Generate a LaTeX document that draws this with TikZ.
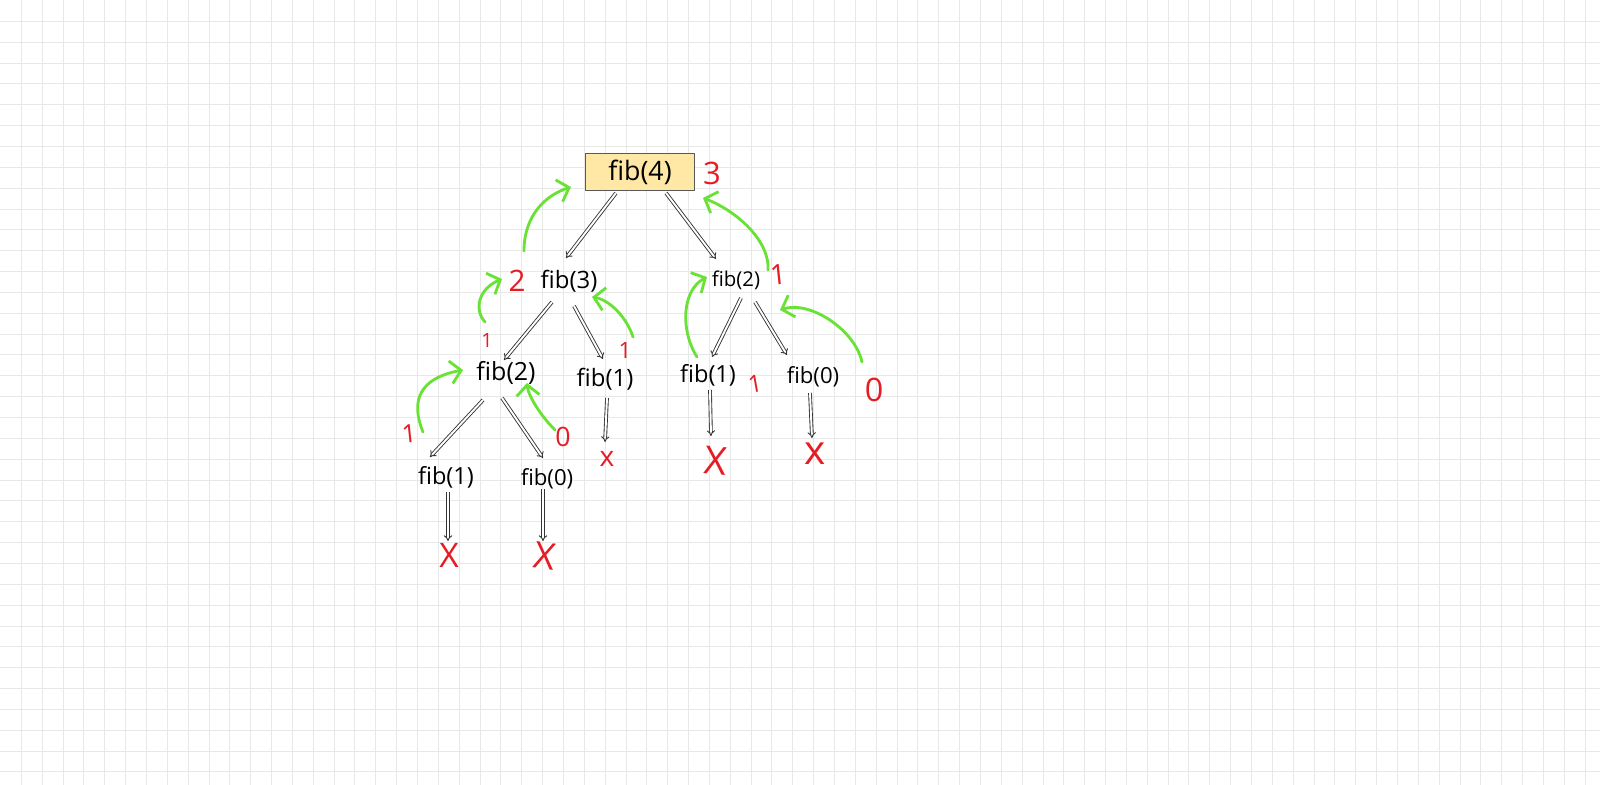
\documentclass[tikz,border=0pt]{standalone}
\usepackage{fontspec}
\setsansfont{Open Sans}
\usetikzlibrary{arrows.meta,calc}
\definecolor{boxfill}{RGB}{255,232,166}
\definecolor{retred}{RGB}{230,28,36}
\definecolor{backgreen}{RGB}{104,226,52}
\definecolor{gridgray}{RGB}{232,232,232}
\tikzset{
  call/.style={font=\sffamily\fontsize{#1}{#1}\selectfont,inner sep=0pt},
  ret/.style={text=retred,font=\sffamily\fontsize{#1}{#1}\selectfont,inner sep=0pt},
  link/.style={draw=black!80,line width=0.25pt,double,double distance=0.55pt,-{Implies}},
  back/.style={draw=backgreen,line width=0.8pt,line cap=round,-{Straight Barb[length=3pt,width=6.5pt]}}
}

\begin{document}
\begin{tikzpicture}[x=0.01cm,y=-0.01cm,line join=round]
\useasboundingbox (0,0) rectangle (1600,785);
\fill[white] (0,0) rectangle (1600,785);
% --- squared paper
\foreach \i in {1,...,76} {
  \pgfmathsetmacro{\gx}{round(\i*20.85)+0.5}
  \draw[gridgray,line width=0.28pt] (\gx,0) -- (\gx,785);}
\foreach \j in {1,...,37} {
  \pgfmathsetmacro{\gy}{round(\j*20.85)+0.5}
  \draw[gridgray,line width=0.28pt] (0,\gy) -- (1600,\gy);}

% --- calls
\node[call=7.6,draw=black!65,fill=boxfill,minimum width=1.09cm,minimum height=0.37cm] (f4) at (640,172) {fib(4)\hspace{0.12cm}};
\node[call=6.8] (f3) at (569,281) {fib(3)};
\node[call=5.8] (f2r) at (736,280) {fib(2)};
\node[call=7.1] (f2l) at (506,373) {fib(2)};
\node[call=6.8] (f1m) at (605,379) {fib(1)};
\node[call=6.7] (f1r) at (708,375) {fib(1)};
\node[call=6.3] (f0r) at (813,377) {fib(0)};
\node[call=6.7] (f1b) at (446,477) {fib(1)};
\node[call=6.3] (f0b) at (547,479) {fib(0)};

% --- ends of recursion
\node[ret=9.6] (xa) at (449,555) {X};
\node[ret=10.5,rotate=-8] (xb) at (545,556) {X};
\node[ret=8] (xc) at (607,459) {x};
\node[ret=11,rotate=-5] (xd) at (716,461) {X};
\node[ret=11.5] (xe) at (815,454) {x};

% --- returned values
\node[ret=8.8] (r4) at (712,173) {3};
\node[ret=8.4] (r3) at (517,281) {2};
\node[ret=8,rotate=6] (r2r) at (778,275) {1};
\node[ret=5.6] (r2l) at (487,340) {1};
\node[ret=6.4] (r1m) at (625,350) {1};
\node[ret=6.8,rotate=10] (r1r) at (755,384) {1};
\node[ret=9.2] (r0r) at (874,390) {0};
\node[ret=7.2,rotate=6] (r1b) at (409,434) {1};
\node[ret=7.6] (r0b) at (563,437) {0};

% --- calls going down
\draw[link] ($(f4)+(-24,21)$) -- ($(f3)+(-3,-23)$);
\draw[link] ($(f4)+(26,21)$) -- ($(f2r)+(-20,-21)$);
\draw[link] ($(f3)+(-17,21)$) -- ($(f2l)+(-2,-13)$);
\draw[link] ($(f3)+(5,25)$) -- ($(f1m)+(-2,-20)$);
\draw[link] ($(f2r)+(5,18)$) -- ($(f1r)+(4,-18)$);
\draw[link] ($(f2r)+(19,22)$) -- ($(f0r)+(-26,-22)$);
\draw[link] ($(f2l)+(-23,27)$) -- ($(f1b)+(-16,-20)$);
\draw[link] ($(f2l)+(-4,25)$) -- ($(f0b)+(-4,-21)$);
\draw[link] ($(f1b)+(2,15)$) -- ($(xa)+(-1,-14)$);
\draw[link] ($(f0b)+(-4,10)$) -- ($(xb)+(-2,-15)$);
\draw[link] ($(f1m)+(2,19)$) -- ($(xc)+(-2,-17)$);
\draw[link] ($(f1r)+(2,15)$) -- ($(xd)+(-5,-25)$);
\draw[link] ($(f0r)+(-3,16)$) -- ($(xe)+(-3,-16)$);

% --- values going back up
\draw[back] ($(r3)+(7,-30)$) .. controls +(0,-36) and +(-25,8) .. ($(f4)+(-69,15)$);
\draw[back] ($(r2l)+(-2,-18)$) .. controls +(-11,-12) and +(-24,10) .. ($(r3)+(-15,-2)$);
\draw[back] ($(r1m)+(8,-13)$) .. controls +(-6,-19) and +(18,3) .. ($(f3)+(23,16)$);
\draw[back] ($(r2r)+(-10,-5)$) .. controls +(2,-30) and +(32,12) .. ($(f4)+(63,26)$);
\draw[back] ($(f1r)+(-11,-18)$) .. controls +(-17,-27) and +(-25,13) .. ($(f2r)+(-29,-3)$);
\draw[back] ($(r0r)+(-12,-28)$) .. controls +(-7,-32) and +(30,-10) .. ($(f2r)+(44,30)$);
\draw[back] ($(r1b)+(14,-2)$) .. controls +(-13,-32) and +(-43,8) .. ($(f2l)+(-43,-3)$);
\draw[back] ($(r0b)+(-8,-7)$) .. controls +(-15,-15) and +(1,12) .. ($(f2l)+(21,10)$);
\end{tikzpicture}
\end{document}
